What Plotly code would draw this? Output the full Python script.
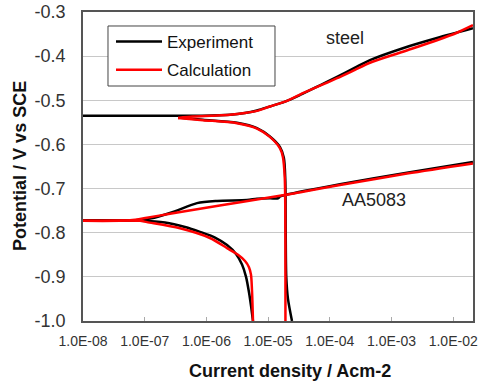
import plotly.graph_objects as go

# ---------------- data (current density A/cm2, potential V vs SCE) -------------
steel_exp_an_i = [1.0e-8, 1.0e-7, 8.8e-7, 2.41e-6, 4.2e-6, 6.61e-6, 1.07e-5, 1.88e-5,
                  3.29e-5, 6.93e-5, 1.31e-4, 2.56e-4, 4.48e-4, 1.53e-3, 5.46e-3, 2.09e-2]
steel_exp_an_E = [-0.535, -0.535, -0.535, -0.533, -0.529, -0.523, -0.514, -0.503,
                  -0.488, -0.466, -0.447, -0.426, -0.409, -0.382, -0.359, -0.337]

steel_exp_ca_i = [3.5e-7, 8.8e-7, 3.13e-6, 6.61e-6, 1.07e-5, 1.56e-5, 1.80e-5, 1.90e-5,
                  1.93e-5, 1.97e-5, 2.10e-5, 2.44e-5]
steel_exp_ca_E = [-0.539, -0.544, -0.551, -0.563, -0.582, -0.606, -0.630, -0.680,
                  -0.800, -0.900, -0.950, -1.000]

steel_cal_an_i = [3.47e-7, 6.0e-7, 1.2e-6, 2.41e-6, 4.2e-6, 6.61e-6, 1.07e-5, 1.88e-5,
                  3.29e-5, 6.93e-5, 1.31e-4, 2.56e-4, 4.48e-4, 1.53e-3, 5.46e-3, 1.15e-2,
                  2.09e-2]
steel_cal_an_E = [-0.540, -0.537, -0.535, -0.533, -0.529, -0.524, -0.514, -0.503,
                  -0.487, -0.467, -0.450, -0.431, -0.415, -0.390, -0.364, -0.347,
                  -0.330]

steel_cal_ca_i = [3.47e-7, 8.8e-7, 3.13e-6, 6.61e-6, 1.07e-5, 1.56e-5, 1.74e-5, 1.86e-5,
                  1.90e-5, 1.91e-5, 1.91e-5]
steel_cal_ca_E = [-0.540, -0.545, -0.552, -0.564, -0.583, -0.609, -0.629, -0.674,
                  -0.750, -0.900, -1.000]

aa_exp_an_i = [1.0e-8, 8.4e-8, 1.22e-7, 2.88e-7, 7.05e-7, 1.49e-6, 4.55e-6, 6.61e-6,
               1.07e-5, 1.45e-5, 1.56e-5, 1.95e-5, 1.46e-4, 1.78e-3, 2.09e-2]
aa_exp_an_E = [-0.772, -0.771, -0.768, -0.753, -0.733, -0.728, -0.726, -0.723,
               -0.722, -0.722, -0.718, -0.714, -0.690, -0.664, -0.640]

aa_exp_ca_i = [1.0e-8, 8.4e-8, 2.13e-7, 4.5e-7, 7.87e-7, 1.38e-6, 2.16e-6, 3.02e-6,
               3.78e-6, 4.39e-6, 4.90e-6, 5.28e-6, 5.69e-6]
aa_exp_ca_E = [-0.772, -0.773, -0.777, -0.787, -0.798, -0.811, -0.828, -0.848,
               -0.872, -0.900, -0.935, -0.965, -1.000]

aa_cal_an_i = [1.0e-8, 5.8e-8, 1.09e-7, 2.57e-7, 7.05e-7, 3.51e-6, 1.95e-5, 3.68e-5,
               1.46e-4, 1.78e-3, 2.09e-2]
aa_cal_an_E = [-0.773, -0.772, -0.766, -0.757, -0.747, -0.731, -0.714, -0.707,
               -0.692, -0.666, -0.643]

aa_cal_ca_i = [1.0e-8, 8.4e-8, 1.09e-7, 3.73e-7, 1.14e-6, 2.16e-6, 3.25e-6, 4.23e-6,
               4.90e-6, 5.28e-6, 5.48e-6, 5.69e-6]
aa_cal_ca_E = [-0.773, -0.773, -0.776, -0.790, -0.812, -0.835, -0.850, -0.864,
               -0.878, -0.895, -0.930, -1.000]

x_tick_vals = [1e-8, 1e-7, 1e-6, 1e-5, 1e-4, 1e-3, 1e-2]
x_tick_text = ["1.0E-08", "1.0E-07", "1.0E-06", "1.0E-05", "1.0E-04", "1.0E-03", "1.0E-02"]
y_tick_vals = [-0.3, -0.4, -0.5, -0.6, -0.7, -0.8, -0.9, -1.0]
y_tick_text = ["-0.3", "-0.4", "-0.5", "-0.6", "-0.7", "-0.8", "-0.9", "-1.0"]

series_names = ["Experiment", "Calculation"]
# ------------------------------------------------------------------------------

FONT = "Liberation Sans, Arial, sans-serif"
BLACK = "#000000"
RED = "#ff0000"


def joined(*pairs):
    xs, ys = [], []
    for xi, yi in pairs:
        if xs:
            xs.append(None)
            ys.append(None)
        xs.extend(xi)
        ys.extend(yi)
    return xs, ys


bx, by = joined((steel_exp_an_i, steel_exp_an_E), (steel_exp_ca_i, steel_exp_ca_E),
                (aa_exp_an_i, aa_exp_an_E), (aa_exp_ca_i, aa_exp_ca_E))
rx, ry = joined((steel_cal_an_i, steel_cal_an_E), (steel_cal_ca_i, steel_cal_ca_E),
                (aa_cal_an_i, aa_cal_an_E), (aa_cal_ca_i, aa_cal_ca_E))

fig = go.Figure()
fig.add_trace(go.Scatter(x=bx, y=by, mode="lines", name=series_names[0],
                         line=dict(color=BLACK, width=2.5, shape="spline", smoothing=0.8),
                         legendgroup="a"))
fig.add_trace(go.Scatter(x=rx, y=ry, mode="lines", name=series_names[1],
                         line=dict(color=RED, width=2.5, shape="spline", smoothing=0.8),
                         legendgroup="b"))

fig.add_annotation(x=-3.754, y=-0.359, xref="x", yref="y", text="steel",
                   showarrow=False, font=dict(family=FONT, size=18, color="#222"))
fig.add_annotation(x=-3.284, y=-0.726, xref="x", yref="y", text="AA5083",
                   showarrow=False, font=dict(family=FONT, size=18, color="#222"))
fig.add_annotation(x=0.531, y=-0.162, xref="paper", yref="paper",
                   text="<b>Current density / Acm-2</b>", showarrow=False,
                   xanchor="center", yanchor="middle",
                   font=dict(family=FONT, size=18, color="#111"))
fig.add_annotation(x=-0.1615, y=0.502, xref="paper", yref="paper",
                   text="<b>Potential / V vs SCE</b>", showarrow=False, textangle=-90,
                   xanchor="center", yanchor="middle",
                   font=dict(family=FONT, size=18, color="#111"))

# legend frame
fig.add_shape(type="rect", xref="paper", yref="paper",
              x0=0.0641, x1=0.4923, y0=0.7605, y1=0.9547,
              line=dict(color="#444", width=1), fillcolor="white", layer="above")

fig.update_layout(
    template="none",
    width=482, height=388,
    margin=dict(l=83, r=9, t=12, b=67, autoexpand=False),
    paper_bgcolor="white", plot_bgcolor="white",
    font=dict(family=FONT, color="#222"),
    showlegend=True,
    legend=dict(x=0.0718, y=0.961, xanchor="left", yanchor="top",
                borderwidth=0, bgcolor="rgba(0,0,0,0)",
                font=dict(family=FONT, size=17, color="#111"),
                tracegroupgap=3, itemwidth=46),
    xaxis=dict(type="log", range=[-8, -1.679], tickvals=x_tick_vals, ticktext=x_tick_text,
               ticks="inside", ticklen=4, tickcolor="#aaa", showgrid=False,
               showline=True, mirror=True, linecolor="#555", linewidth=1.5,
               tickfont=dict(family=FONT, size=14, color="#333"),
               ticklabelstandoff=6, zeroline=False, automargin=False),
    yaxis=dict(range=[-1.0, -0.3], tickvals=y_tick_vals, ticktext=y_tick_text,
               showgrid=True, gridcolor="#c8c8c8", gridwidth=1, ticks="",
               showline=True, mirror=True, linecolor="#555", linewidth=1.5,
               tickfont=dict(family=FONT, size=18, color="#333"),
               ticklabelstandoff=12, zeroline=False, automargin=False),
)

fig.write_html("out.html")
